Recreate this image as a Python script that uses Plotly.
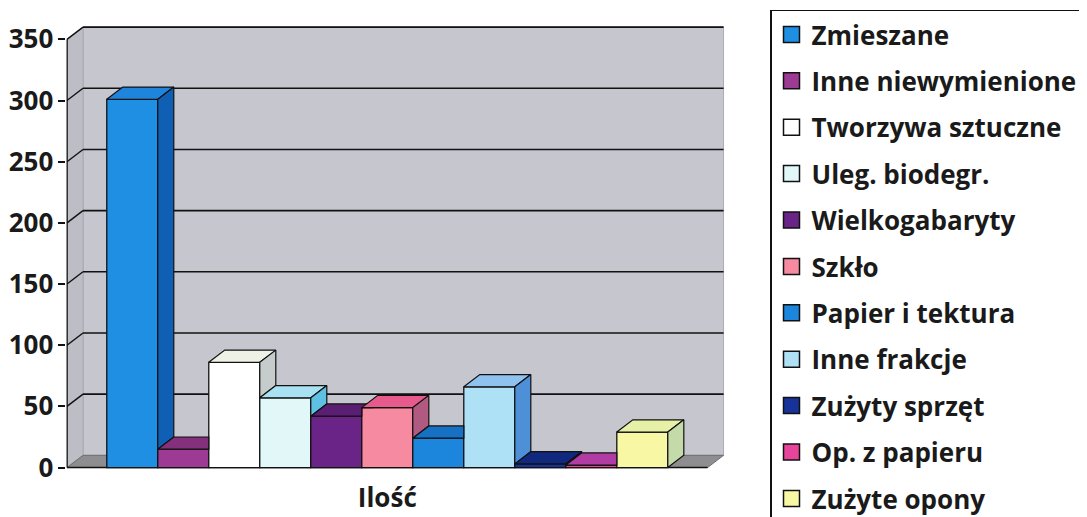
import plotly.graph_objects as go

# ---- data ----
categories = ["Zmieszane", "Inne niewymienione", "Tworzywa sztuczne", "Uleg. biodegr.",
              "Wielkogabaryty", "Szkło", "Papier i tektura", "Inne frakcje",
              "Zużyty sprzęt", "Op. z papieru", "Zużyte opony"]
values = [301, 15, 86, 57, 42, 49, 24, 66, 3, 2, 29]
axis_label = "Ilość"
y_ticks = [0, 50, 100, 150, 200, 250, 300, 350]

# ---- styles ----
front_colors = ["#1e8fe3", "#9c3a94", "#ffffff", "#e2f7f8", "#6a2487", "#f58aa0",
                "#1c86dc", "#aee0f6", "#17339a", "#e8449c", "#f8f8a4"]
top_colors = ["#1f84dc", "#85307c", "#eef2e6", "#a8e2f2", "#5a1e72", "#e65a8c",
              "#1670c4", "#90c2f0", "#10287e", "#b03ca4", "#e6f0a6"]
side_colors = ["#0f60b4", "#7a2a70", "#c6cccc", "#5ec0e2", "#4e1a62", "#b05a82",
               "#0f5fb0", "#4d90d8", "#0c2070", "#8a2a80", "#c4daa8"]
wall_color = "#c6c6ce"
side_wall_color = "#bdbdc5"
floor_color = "#8e8e90"
FONT = "Open Sans"

DX = 0.314   # depth offset, x units
DY = 10.0    # depth offset, y units
W = 1.0      # bar width
x_front_left = -1.28
x_front_right = len(values) + 0.28
y_top = y_ticks[-1]

fig = go.Figure()
shapes = []

# back wall
shapes.append(dict(type="rect", xref="x", yref="y", layer="below",
                   x0=x_front_left + DX, x1=x_front_right + DX, y0=DY, y1=y_top + DY,
                   fillcolor=wall_color, line=dict(color="#a8a8b0", width=1)))
# left side wall
shapes.append(dict(type="path", xref="x", yref="y", layer="below",
                   path=(f"M {x_front_left},0 L {x_front_left + DX},{DY} "
                         f"L {x_front_left + DX},{y_top + DY} L {x_front_left},{y_top} Z"),
                   fillcolor=side_wall_color, line=dict(color="#a8a8b0", width=1)))
# floor
shapes.append(dict(type="path", xref="x", yref="y", layer="below",
                   path=(f"M {x_front_left},0 L {x_front_right},0 "
                         f"L {x_front_right + DX},{DY} L {x_front_left + DX},{DY} Z"),
                   fillcolor=floor_color, line=dict(color="#6e6e70", width=1)))
# gridlines on back wall + diagonals on side wall
for v in y_ticks[1:]:
    shapes.append(dict(type="line", xref="x", yref="y", layer="below",
                       x0=x_front_left + DX, x1=x_front_right + DX, y0=v + DY, y1=v + DY,
                       line=dict(color="#111111", width=1.6)))
    shapes.append(dict(type="line", xref="x", yref="y", layer="below",
                       x0=x_front_left, x1=x_front_left + DX, y0=v, y1=v + DY,
                       line=dict(color="#111111", width=1.4)))
# front axis line and front floor edge
shapes.append(dict(type="line", xref="x", yref="y", layer="above",
                   x0=x_front_left, x1=x_front_left, y0=0, y1=y_top,
                   line=dict(color="#111111", width=1.6)))
shapes.append(dict(type="line", xref="x", yref="y", layer="below",
                   x0=x_front_left, x1=x_front_right, y0=0, y1=0,
                   line=dict(color="#111111", width=1.6)))

n = len(values)
# front faces as bars
for i, (name, v) in enumerate(zip(categories, values)):
    fig.add_trace(go.Bar(x=[i], y=[v], width=[W], name=name, showlegend=False,
                         marker=dict(color=front_colors[i], line=dict(color="#111111", width=1.3)),
                         hovertemplate=f"{name}: %{{y}}<extra></extra>"))

# top and side faces (clipped against the next bar's front, which is drawn below scatter)
for i, v in enumerate(values):
    l, r = i - W / 2, i + W / 2
    hn = values[i + 1] if i + 1 < n else None
    if hn is None or hn <= v:
        tx = [l, r, r + DX, l + DX, l]
        ty = [v, v, v + DY, v + DY, v]
    elif hn >= v + DY:
        tx = [l, r, r, l + DX, l]
        ty = [v, v, v + DY, v + DY, v]
    else:
        t = (hn - v) / DY
        tx = [l, r, r, r + t * DX, r + DX, l + DX, l]
        ty = [v, v, hn, hn, v + DY, v + DY, v]
    fig.add_trace(go.Scatter(x=tx, y=ty, mode="lines", fill="toself",
                             fillcolor=top_colors[i], line=dict(color="#111111", width=1.2),
                             showlegend=False, hoverinfo="skip"))
    base = 0 if hn is None else hn
    if base < v:
        sx = [r, r, r + DX, r + DX, r]
        sy = [base, v, v + DY, base + DY, base]
        fig.add_trace(go.Scatter(x=sx, y=sy, mode="lines", fill="toself",
                                 fillcolor=side_colors[i], line=dict(color="#111111", width=1.2),
                                 showlegend=False, hoverinfo="skip"))

# legend entries
for i, name in enumerate(categories):
    fig.add_trace(go.Scatter(x=[None], y=[None], mode="markers", name=name,
                             legendgroup=str(i),
                             marker=dict(symbol="square", size=17, color=front_colors[i],
                                         line=dict(color="#111111", width=1.5))))

fig.update_layout(
    template="none",
    width=1087, height=517,
    margin=dict(l=0, r=0, t=0, b=0),
    paper_bgcolor="white", plot_bgcolor="white",
    barmode="overlay",
    shapes=shapes,
    font=dict(family=FONT, size=26, color="#1a1a1a", weight="bold"),
    xaxis=dict(domain=[0.0538, 0.6588], range=[-1.29, x_front_right + DX + 0.01],
               tickvals=[(n - 1) / 2], ticktext=[axis_label], ticks="",
               showgrid=False, zeroline=False, showline=False, automargin=False,
               ticklabelstandoff=9,
               tickfont=dict(family=FONT, size=26, weight="bold")),
    yaxis=dict(domain=[0.1040, 0.9654], range=[-3, 361],
               tickvals=y_ticks, ticks="outside", ticklen=7, tickwidth=1.6, tickcolor="#111111",
               showgrid=False, zeroline=False, showline=False, automargin=False,
               tickfont=dict(family=FONT, size=26, weight="bold")),
    legend=dict(x=762 / 1087, y=1 - 1.5 / 517, xanchor="left", yanchor="top",
                bordercolor="#111111", borderwidth=1.5, bgcolor="white",
                tracegroupgap=9.6, traceorder="grouped",
                font=dict(family=FONT, size=26, weight="bold")),
    showlegend=True,
)

fig.write_html("out.html")
